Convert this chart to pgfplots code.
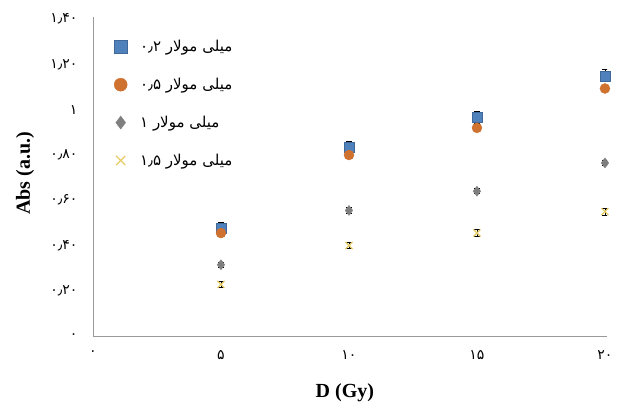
\documentclass[border=0pt]{standalone}
\usepackage{fontspec}
\setmainfont{Liberation Serif}
\newfontfamily\arabicfont[Script=Arabic]{DejaVu Sans}
\TeXXeTstate=1
\usepackage{pgfplots}
\pgfplotsset{compat=1.18}
\definecolor{sqblue}{HTML}{4F81BD}
\definecolor{cirorange}{HTML}{D0722F}
\definecolor{diagray}{HTML}{7F7F7F}
\definecolor{xyellow}{HTML}{E6CC66}
\begin{document}
\begin{tikzpicture}
\begin{axis}[
  at={(93pt,72pt)}, anchor=south west,
  scale only axis, width=514pt, height=319pt,
  xmin=0, xmax=20.08, ymin=0, ymax=1.41,
  axis x line=bottom, axis y line=left,
  axis line style={draw=gray!80, line width=0.8pt, -},
  major tick length=0pt,
  xtick={0,5,10,15,20},
  xticklabels={{\arabicfont ۰},{\arabicfont ۵},{\arabicfont ۱۰},{\arabicfont ۱۵},{\arabicfont ۲۰}},
  ytick={0,0.2,0.4,0.6,0.8,1,1.2,1.4},
  yticklabels={{\arabicfont ۰},{\arabicfont ۰٫۲۰},{\arabicfont ۰٫۴۰},{\arabicfont ۰٫۶۰},{\arabicfont ۰٫۸۰},{\arabicfont ۱},{\arabicfont ۱٫۲۰},{\arabicfont ۱٫۴۰}},
  tick label style={font=\fontsize{14}{16}\selectfont},
  xticklabel style={yshift=-11pt},
  yticklabel style={xshift=-12pt},
  xlabel={\textbf{D (Gy)}},
  ylabel={\textbf{Abs (a.u.)}},
  label style={font=\fontsize{20}{24}\selectfont},
  xlabel style={at={(axis description cs:0.49,-0.179)}, anchor=center},
  ylabel style={at={(axis description cs:-0.132,0.51)}, anchor=center, rotate=0},
  legend cell align=left,
  legend image post style={scale=1.3},
  legend style={at={(axis description cs:0.035,0.94)}, anchor=north west, draw=none, fill=none,
    row sep=21pt, font=\fontsize{15}{18}\selectfont,
    /tikz/every odd column/.append style={column sep=11pt}},
  error bars/y dir=both, error bars/y explicit,
  error bars/error bar style={black, line width=0.9pt},
  error bars/error mark options={black, line width=0.9pt, mark size=3pt, rotate=90},
]
\addplot[only marks, mark=square*, mark size=5pt, mark options={fill=sqblue, draw=sqblue!80!black}]
  coordinates {(5,0.475) +- (0,0.027) (10,0.835) +- (0,0.027) (15,0.965) +- (0,0.027) (20,1.15) +- (0,0.027)};
\addlegendentry{\arabicfont\beginR میلی مولار \beginL۰٫۲\endL\endR}
\addplot[only marks, mark=*, mark size=5pt, mark options={fill=cirorange, draw=cirorange}]
  coordinates {(5,0.455) +- (0,0.015) (10,0.80) +- (0,0.015) (15,0.92) +- (0,0.015) (20,1.094) +- (0,0.015)};
\addlegendentry{\arabicfont\beginR میلی مولار \beginL۰٫۵\endL\endR}
\addplot[only marks, mark=diamond*, mark size=5pt, mark options={fill=diagray, draw=diagray}]
  coordinates {(5,0.315) +- (0,0.012) (10,0.555) +- (0,0.012) (15,0.64) +- (0,0.012) (20,0.765) +- (0,0.012)};
\addlegendentry{\arabicfont\beginR میلی مولار \beginL۱\endL\endR}
\addplot[only marks, mark=x, mark size=5pt, mark options={draw=xyellow, line width=1.2pt}]
  coordinates {(5,0.228) +- (0,0.015) (10,0.40) +- (0,0.015) (15,0.455) +- (0,0.015) (20,0.55) +- (0,0.015)};
\addlegendentry{\arabicfont\beginR میلی مولار \beginL۱٫۵\endL\endR}
\end{axis}
\pgfresetboundingbox
\path[use as bounding box] (0,0) rectangle (619pt,408pt);
\end{tikzpicture}
\end{document}
